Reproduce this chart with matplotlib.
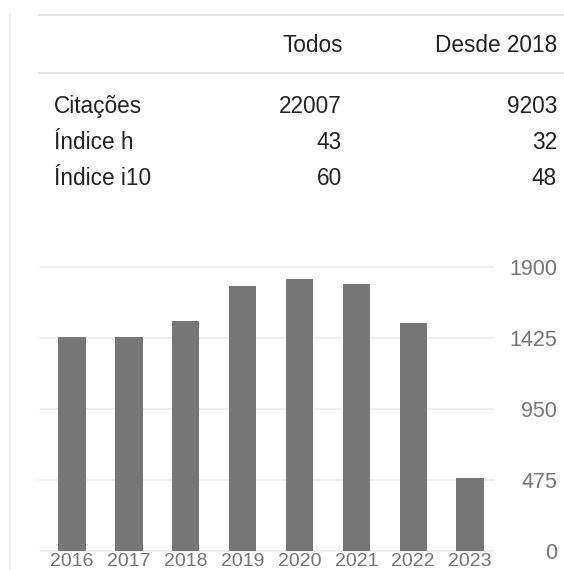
import matplotlib
matplotlib.use("Agg")
import matplotlib.pyplot as plt
from matplotlib.lines import Line2D

plt.rcParams['font.family'] = ['Liberation Sans', 'DejaVu Sans']

# ---- data ----
table_cols = ["Todos", "Desde 2018"]
row_labels = ["Citações", "Índice h", "Índice i10"]
todos_vals = ["22007", "43", "60"]
desde_vals = ["9203", "32", "48"]

years = ["2016", "2017", "2018", "2019", "2020", "2021", "2022", "2023"]
citations = [1428, 1428, 1537, 1769, 1818, 1783, 1522, 486]
yticks = [0, 475, 950, 1425, 1900]

W, H = 564, 570
fig = plt.figure(figsize=(W / 100, H / 100), dpi=100)

def fx(px):
    return px / W

def fy(py):
    return 1 - py / H

# ---- table ----
txt_color = "#222222"
fs = 16.3
fig.text(fx(343), fy(51.7), table_cols[0], ha="right", va="baseline", fontsize=fs, color=txt_color)
fig.text(fx(557), fy(51.7), table_cols[1], ha="right", va="baseline", fontsize=fs, color=txt_color)
row_base = [113.3, 149, 185]
for lab, a, b, yb in zip(row_labels, todos_vals, desde_vals, row_base):
    fig.text(fx(54), fy(yb), lab, ha="left", va="baseline", fontsize=fs, color=txt_color)
    fig.text(fx(342), fy(yb), a, ha="right", va="baseline", fontsize=fs, color=txt_color)
    fig.text(fx(557), fy(yb), b, ha="right", va="baseline", fontsize=fs, color=txt_color)

line_col = "#e3e3e3"
for yy in (15, 72.7):
    fig.add_artist(Line2D([fx(39), fx(564)], [fy(yy), fy(yy)], color=line_col, lw=1.3,
                          transform=fig.transFigure))
fig.add_artist(Line2D([fx(10), fx(10)], [fy(14), fy(570)], color="#eeeeee", lw=1.3,
                      transform=fig.transFigure))

# ---- bar chart ----
ppu = (551 - 266.7) / 1900.0
ymin, ymax = -20, 1960
ax_bottom_px = 551 + (-ymin) * ppu
ax_top_px = 266.7 - (ymax - 1900) * ppu
ax_left_px, ax_right_px = 39, 494
ax = fig.add_axes([fx(ax_left_px), fy(ax_bottom_px),
                   (ax_right_px - ax_left_px) / W, (ax_bottom_px - ax_top_px) / H])
ax.set_facecolor("none")
x = list(range(len(years)))
ax.bar(x, citations, width=0.48, color="#777777", zorder=3)
ax.set_xlim(-0.58, 7.42)
ax.set_ylim(ymin, ymax)
for s in ax.spines.values():
    s.set_visible(False)
ax.set_yticks(yticks)
ax.set_yticklabels([str(t) for t in yticks])
ax.yaxis.grid(True, color="#eeeeee", lw=1.3, zorder=0)
ax.set_axisbelow(True)
ax.tick_params(axis="y", length=0, left=False, right=False, labelleft=False, labelright=True,
               pad=(557 - ax_right_px) * 0.72, labelsize=15.5, labelcolor="#757575")
for t in ax.yaxis.get_major_ticks():
    t.label2.set_horizontalalignment("right")
ax.set_xticks(x)
ax.set_xticklabels(years)
ax.tick_params(axis="x", length=0, pad=-0.5, labelsize=14, labelcolor="#757575")

fig.savefig("out.png", dpi=100)
